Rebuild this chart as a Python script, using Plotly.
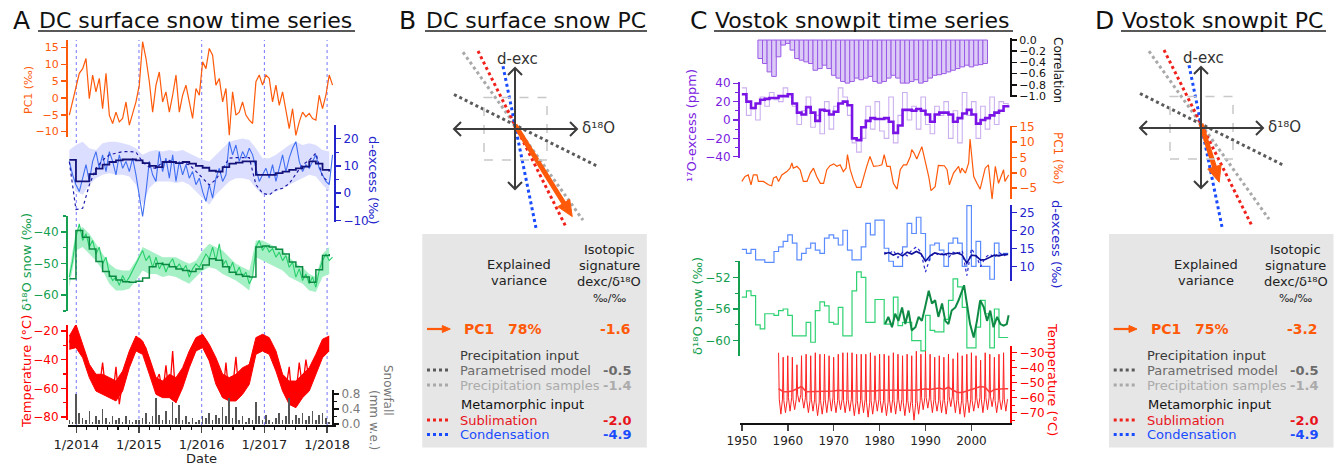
import math
import plotly.graph_objects as go

W, H = 1337, 467
FONT = "DejaVu Sans"

ORANGE = "#ff5a0a"
DEXC_BLUE = "#2424cc"
GREEN_AX = "#14a050"
RED = "#ff0000"
PURPLE = "#7b22e0"

# ---------------- Panel A : DC surface snow time series ----------------
A_T_FINE = [2013.889, 2013.942, 2013.995, 2014.048, 2014.102, 2014.155, 2014.208, 2014.261, 2014.314, 2014.367,
            2014.420, 2014.474, 2014.527, 2014.580, 2014.633, 2014.686, 2014.739, 2014.793, 2014.846, 2014.899,
            2014.952, 2015.005, 2015.058, 2015.112, 2015.165, 2015.218, 2015.271, 2015.324, 2015.377, 2015.430,
            2015.484, 2015.537, 2015.590, 2015.643, 2015.696, 2015.749, 2015.802, 2015.855, 2015.909, 2015.962,
            2016.015, 2016.068, 2016.121, 2016.174, 2016.227, 2016.281, 2016.334, 2016.387, 2016.440, 2016.493,
            2016.546, 2016.599, 2016.652, 2016.705, 2016.759, 2016.812, 2016.865, 2016.918, 2016.971, 2017.024,
            2017.077, 2017.130, 2017.184, 2017.237, 2017.290, 2017.343, 2017.396, 2017.449, 2017.502, 2017.556,
            2017.609, 2017.662, 2017.715, 2017.768, 2017.821, 2017.874, 2017.927, 2017.981, 2018.034, 2018.087]
A_T_COARSE = [2013.889, 2013.995, 2014.102, 2014.208, 2014.314, 2014.420, 2014.527, 2014.633, 2014.739, 2014.846,
              2014.952, 2015.058, 2015.165, 2015.271, 2015.377, 2015.484, 2015.590, 2015.696, 2015.802, 2015.909,
              2016.015, 2016.121, 2016.227, 2016.334, 2016.440, 2016.546, 2016.652, 2016.759, 2016.865, 2016.971,
              2017.077, 2017.184, 2017.290, 2017.396, 2017.502, 2017.609, 2017.715, 2017.821, 2017.927, 2018.034]

A_PC1 = [-5.1, -1.2, 2.8, 7.3, 8.7, 11.7, -0.2, 6.8, 1.8, 5.8,
         -3.2, 7.3, -5.1, -7.6, -4.2, -7.1, -6.1, -1.2, -8.1, -4.2,
         -1.2, 3.8, 16.7, 11.7, 4.8, -4.2, 3.8, 7.7, -1.2, 1.8,
         -4.2, 0.8, 6.8, -4.2, 0.8, 3.8, -1.2, -6.1, 2.8, 0.8,
         10.7, 8.7, 14.7, 12.7, 3.8, 5.8, -1.2, 2.8, -11.1, 1.8,
         -5.1, -4.2, -1.2, -5.1, -6.6, -7.6, 4.8, 6.8, 3.8, 6.8,
         5.8, -1.2, 3.8, -2.2, 1.8, -4.2, -9.1, -3.2, -11.1, -7.1,
         -4.2, -5.6, -4.6, -6.1, -6.6, 0.8, -3.2, 0.8, 6.8, 3.8]
A_DEXC_RAW = [11.6, 6.7, 3.1, 0.6, 5.5, 10.4, 4.3, 11.6, 15.2, 9.1,
              14.0, 7.9, 15.2, 11.6, 6.7, 14.0, 9.1, 11.6, 7.9, 12.8,
              6.7, -0.6, -8.5, 0.6, 11.6, 6.7, 4.3, 15.2, 7.9, 12.8,
              5.5, 14.0, 4.3, 11.6, 6.7, 10.4, 5.5, 7.9, 3.1, 5.5,
              0.6, -3.0, 3.1, -1.8, 5.5, 9.1, 4.3, 6.7, 18.8, 14.0,
              17.6, 11.6, 15.2, 12.8, 16.4, 14.0, 9.1, 4.3, 6.7, 9.1,
              5.5, 10.4, 4.3, 9.1, 14.0, 7.9, 12.8, 16.4, 18.8, 11.6,
              7.9, 10.4, 9.1, 11.6, 14.0, 9.1, 6.7, 4.3, 3.1, 14.0]
A_DEXC_HI = [15.8, 17.6, 18.8, 16.4, 15.8, 18.2, 18.8, 18.8, 18.2, 17.6,
             16.4, 14.0, 15.2, 15.8, 15.2, 15.8, 15.2, 15.8, 14.6, 13.4,
             12.2, 11.6, 14.0, 16.4, 18.8, 19.4, 20.0, 19.4, 16.4, 12.8,
             12.8, 14.0, 15.8, 17.6, 18.8, 17.6, 18.2, 17.6, 15.8, 15.2]
A_DEXC_LO = [9.1, 0.6, -0.6, 3.1, 5.5, 6.7, 7.3, 6.7, 6.7, 6.1,
             3.1, -4.2, 1.8, 4.3, 4.3, 4.3, 3.7, 4.3, 3.1, 0.6,
             -1.8, -4.2, -0.6, 1.8, 4.3, 5.5, 5.5, 4.9, 1.8, -0.6,
             -0.6, 0.6, 1.8, 3.1, 4.3, 5.5, 6.7, 6.1, 3.1, 0.6]
A_DEXC_SMOOTH = [12.2, 4.3, 4.3, 7.0, 9.0, 10.4, 11.4, 12.0, 12.3, 12.3,
                 12.0, 11.0, 10.0, 9.5, 11.4, 11.4, 11.0, 11.4, 10.8, 10.0,
                 9.3, 8.2, 7.9, 9.5, 10.8, 11.2, 11.6, 11.6, 6.7, 6.7,
                 6.7, 7.3, 7.9, 8.5, 9.1, 9.7, 11.6, 10.8, 8.5, 7.9]
A_DEXC_MODEL = [11.5, -6.0, -5.5, 3.0, 9.1, 12.0, 14.0, 14.6, 15.2, 15.2,
                15.0, 11.4, 9.5, 9.1, 11.4, 12.0, 11.0, 11.0, 10.4, 8.0,
                5.5, 3.0, 5.0, 9.1, 12.8, 13.0, 13.0, 13.0, 3.1, 0.0,
                -0.6, 1.2, 1.8, 3.5, 7.0, 10.4, 12.0, 14.6, 6.0, 4.0]
A_D18O_RAW = [-54.3, -49.1, -41.7, -37.5, -42.7, -40.6, -44.8, -42.7, -47.0, -44.8,
              -50.1, -48.0, -53.3, -55.4, -54.3, -56.9, -53.8, -55.9, -54.3, -52.2,
              -50.6, -48.0, -45.9, -49.1, -47.5, -51.2, -48.0, -51.7, -49.6, -52.7,
              -50.1, -48.5, -51.7, -50.1, -52.2, -50.6, -54.3, -51.7, -50.1, -51.2,
              -49.1, -47.0, -48.5, -44.8, -49.1, -43.8, -50.6, -49.1, -52.2, -49.6,
              -53.3, -51.2, -54.3, -52.7, -56.4, -54.3, -44.8, -42.7, -45.9, -44.3,
              -46.4, -45.3, -48.0, -46.4, -49.1, -47.5, -51.2, -49.6, -54.3, -51.7,
              -55.4, -53.3, -56.4, -54.3, -57.5, -52.2, -49.1, -47.0, -49.1, -48.0]
A_D18O_HI = [-52.2, -39.6, -38.5, -40.6, -43.8, -47.0, -50.1, -51.7, -52.2, -52.2,
             -49.1, -44.8, -45.9, -47.0, -48.0, -48.0, -48.0, -49.1, -50.1, -49.1,
             -45.9, -43.8, -44.8, -45.9, -48.0, -50.1, -51.2, -52.2, -42.7, -42.7,
             -43.8, -44.8, -45.9, -48.0, -50.1, -51.2, -53.3, -54.3, -47.0, -44.8]
A_D18O_LO = [-57.5, -45.9, -44.8, -47.0, -49.1, -52.2, -56.4, -58.5, -58.5, -58.0,
             -55.4, -52.2, -53.3, -53.3, -54.3, -53.8, -54.3, -55.4, -56.4, -54.3,
             -52.2, -51.2, -51.7, -53.3, -54.3, -55.4, -56.9, -58.5, -48.0, -49.1,
             -50.1, -51.2, -52.2, -54.3, -55.4, -56.4, -58.5, -59.0, -54.3, -53.3]
A_D18O_SMOOTH = [-54.8, -39.6, -41.7, -45.4, -49.4, -52.5, -54.0, -55.2, -55.8, -55.9,
                 -55.6, -54.6, -51.0, -50.0, -50.3, -51.0, -51.7, -52.2, -52.5, -51.7,
                 -50.5, -48.5, -49.0, -51.0, -52.8, -53.5, -54.0, -54.3, -44.8, -44.5,
                 -44.8, -45.5, -47.0, -49.5, -51.0, -54.3, -55.9, -52.0, -47.5, -47.0]
A_TEMP_HI = [-23.5, -15.4, -29.3, -43.2, -50.2, -50.2, -52.5, -54.9, -47.9, -33.9,
             -23.5, -27.0, -38.6, -52.5, -54.9, -50.2, -52.5, -45.6, -33.9, -24.6,
             -22.3, -29.3, -38.6, -50.2, -52.5, -50.2, -45.6, -43.3, -24.6, -22.3,
             -24.6, -33.9, -50.2, -54.9, -54.9, -50.2, -45.6, -36.3, -25.7, -23.5]
A_TEMP_LO = [-32.8, -31.6, -38.6, -52.5, -61.9, -64.2, -66.5, -68.8, -61.9, -45.6,
             -33.9, -36.3, -50.2, -64.2, -66.5, -66.5, -70.0, -59.6, -45.6, -33.9,
             -31.6, -40.9, -57.2, -66.5, -68.8, -68.8, -64.2, -57.2, -36.3, -33.9,
             -36.3, -47.9, -61.9, -71.2, -73.5, -66.5, -61.9, -50.2, -38.6, -33.9]
A_TEMP_RAW = [-28, -22, -16, -30, -33, -40, -46, -52, -56, -60,
              -42, -64, -58, -66, -45, -71, -55, -50, -42, -36,
              -30, -25, -28, -32, -40, -47, -55, -50, -64, -44,
              -66, -34, -70, -60, -50, -44, -40, -34, -28, -24,
              -26, -31, -37, -44, -50, -60, -66, -42, -68, -60,
              -38, -66, -55, -48, -44, -38, -29, -24, -26, -30,
              -28, -34, -40, -47, -55, -60, -45, -72, -64, -42,
              -60, -40, -55, -44, -40, -33, -30, -26, None, None]
A_SNOW = [0.1, 0.05, 0.8, 0.3, 0.15, 0.1, 0.35, 0.05, 0.2, 0.1,
          0.4, 0.15, 0.05, 0.2, 0.1, 0.15, 0.05, 0.2, 0.1, 0.05,
          0.1, 0.1, 0.15, 0.3, 0.05, 0.2, 0.7, 0.25, 0.1, 0.35,
          0.1, 0.6, 0.15, 0.5, 0.1, 0.2, 0.05, 0.15, 0.05, 0.1,
          0.2, 0.15, 0.3, 0.1, 0.25, 0.15, 0.45, 0.2, 0.7, 0.15,
          0.45, 0.1, 0.2, 0.05, 0.15, 0.1, 0.6, 0.2, 0.1, 0.25,
          0.1, 0.05, 0.15, 0.3, 0.1, 0.2, 0.7, 0.1, 0.25, 0.15,
          0.3, 0.1, 0.2, 0.35, 0.1, 0.25, 0.3, 0.15, 0.05, 0.1]
A_TICK_YEARS = [2014, 2015, 2016, 2017, 2018]
A_TICK_LABELS = ["1/2014", "1/2015", "1/2016", "1/2017", "1/2018"]

# ---------------- Panel C : Vostok snowpit time series ----------------
C_YEARS = [1950, 1951, 1952, 1953, 1954, 1955, 1956, 1957, 1958, 1959,
           1960, 1961, 1962, 1963, 1964, 1965, 1966, 1967, 1968, 1969,
           1970, 1971, 1972, 1973, 1974, 1975, 1976, 1977, 1978, 1979,
           1980, 1981, 1982, 1983, 1984, 1985, 1986, 1987, 1988, 1989,
           1990, 1991, 1992, 1993, 1994, 1995, 1996, 1997, 1998, 1999,
           2000, 2001, 2002, 2003, 2004, 2005, 2006, 2007, 2008]
C_O17_RAW = [35, 5, 12, 0, 25, 15, 30, 22, 20, 35,
             25, 15, -5, 10, 25, -8, 5, -15, 20, -10,
             15, 35, 25, 5, -25, -35, -20, 15, -10, 20,
             -12, -20, 25, -25, 5, 30, 0, 15, -10, 25,
             -5, -15, 15, 5, 20, -20, 10, -25, 30, 5,
             20, -20, 15, -10, 25, -5, 20, 18, 15]
C_O17_SMOOTH = [28, 20, 13, 18, 22, 23, 24, 24, 26, 26,
                28, 18, 8, 6, 14, 8, -1, 11, 10, 6,
                9, 18, 20, 16, -20, -22, -8, -1, 2, 1,
                1, 2, -2, -14, -6, 11, 11, 10, 12, 10,
                6, -2, 6, 8, 8, 6, -2, 2, 7, 11,
                6, -4, 0, 2, 5, 8, 10, 15, 16]
C_DEXC_RAW = [14.8, 13.7, 14.8, 11.9, 11.9, 11.2, 11.2, 14.2, 15.5, 17.0,
              18.8, 16.5, 11.9, 13.7, 15.1, 16.5, 14.6, 13.7, 17.9, 18.8,
              17.9, 16.0, 20.1, 14.6, 11.9, 11.9, 15.5, 22.0, 18.8, 22.9,
              22.9, 15.1, 11.5, 10.1, 10.1, 15.5, 22.0, 19.2, 23.7, 19.2,
              11.9, 16.0, 16.5, 14.6, 10.1, 16.5, 17.9, 16.5, 10.1, 26.9,
              10.1, 17.0, 10.1, 10.1, 6.5, 16.5, 13.2, 13.7, 13.7]
C_D18O_RAW = [-54.5, -53.7, -54.3, -58.0, -58.5, -56.6, -56.6, -56.8, -56.2, -56.0,
              -56.8, -59.4, -59.4, -59.4, -57.7, -60.2, -56.2, -55.1, -55.6, -57.7,
              -57.9, -55.8, -59.4, -59.4, -53.7, -51.3, -52.0, -57.7, -57.7, -54.8,
              -54.8, -57.9, -57.9, -54.5, -58.1, -57.7, -57.7, -60.0, -60.0, -61.3,
              -56.8, -58.7, -58.9, -58.9, -57.3, -54.9, -52.2, -53.2, -55.8, -60.9,
              -60.9, -58.3, -54.9, -56.6, -60.9, -56.0, -59.6, -59.6, -59.6]

C_CORR_YEARS = [1954, 1955, 1956, 1957, 1958, 1959, 1960, 1961, 1962, 1963,
                1964, 1965, 1966, 1967, 1968, 1969, 1970, 1971, 1972, 1973,
                1974, 1975, 1976, 1977, 1978, 1979, 1980, 1981, 1982, 1983,
                1984, 1985, 1986, 1987, 1988, 1989, 1990, 1991, 1992, 1993,
                1994, 1995, 1996, 1997, 1998, 1999, 2000, 2001, 2002, 2003]
C_CORR = [-0.33, -0.42, -0.57, -0.65, -0.30, -0.09, -0.06, -0.18, -0.33, -0.36,
          -0.39, -0.42, -0.54, -0.51, -0.45, -0.51, -0.63, -0.68, -0.74, -0.77,
          -0.74, -0.68, -0.71, -0.68, -0.65, -0.74, -0.77, -0.74, -0.68, -0.63,
          -0.68, -0.77, -0.77, -0.74, -0.71, -0.77, -0.74, -0.68, -0.63, -0.62,
          -0.60, -0.57, -0.54, -0.51, -0.48, -0.45, -0.48, -0.45, -0.44, -0.42]

C_PC1_YEARS = [1950.0, 1950.7, 1951.4, 1952.0, 1952.5, 1953.3, 1953.6, 1954.7, 1955.8, 1956.5,
               1956.9, 1957.5, 1958.0, 1958.7, 1959.8, 1960.5, 1960.9, 1961.2, 1962.0, 1962.7,
               1963.4, 1964.2, 1964.9, 1965.6, 1966.3, 1967.1, 1967.8, 1968.5, 1969.2, 1970.0,
               1970.7, 1971.4, 1972.1, 1972.7, 1973.0, 1973.6, 1974.3, 1975.0, 1975.9, 1976.5,
               1977.2, 1977.9, 1978.7, 1979.8, 1980.5, 1981.0, 1981.6, 1982.3, 1983.0, 1983.8,
               1984.5, 1985.2, 1985.9, 1986.7, 1987.0, 1987.5, 1988.1, 1989.2, 1989.9, 1990.7,
               1991.2, 1992.1, 1992.8, 1993.6, 1994.1, 1994.7, 1995.2, 1996.1, 1997.2, 1997.6,
               1997.9, 1998.7, 1999.4, 1999.7, 2000.5, 2001.2, 2001.9, 2003.0, 2003.7, 2004.5,
               2005.2, 2005.9, 2006.6, 2007.0, 2007.3, 2008.1]
C_PC1 = [-2.8, -1.2, -0.7, -3.9, -0.7, -0.7, -2.8, -2.8, -3.9, -4.2,
         -1.7, -1.2, -2.8, -0.7, 0.4, 1.5, 3.2, 1.5, 2.1, 1.0,
         -2.8, -2.8, -0.1, 1.5, -1.2, -3.4, -3.4, 1.0, 2.3, 2.9,
         2.1, 2.6, 0.4, 1.5, 5.9, 1.0, -2.3, -4.7, -4.7, -1.2,
         2.1, 5.3, 2.1, 2.3, 2.6, 5.9, 2.1, 2.1, -3.4, -5.3,
         1.0, 2.6, 2.6, 5.3, 7.5, 6.4, 4.5, 8.5, 4.2, -1.2,
         -5.8, -4.5, 2.4, 2.4, 2.3, 1.0, -3.9, -0.1, 2.1, -0.1,
         1.5, -0.1, 3.2, 11.0, -1.2, -3.4, -5.3, 1.5, 2.6, -8.6,
         2.1, -3.4, -0.1, 1.0, -2.8, -0.7]

C_RECENT_YEARS = [1981, 1982, 1983, 1984, 1985, 1986, 1987, 1988, 1989, 1990,
                  1991, 1992, 1993, 1994, 1995, 1996, 1997, 1998, 1999, 2000,
                  2001, 2002, 2003, 2004, 2005, 2006, 2007, 2008]
C_DEXC_SMOOTH = [13.5, 13.9, 13.2, 13.7, 13.0, 14.0, 13.5, 14.2, 13.6, 11.5,
                 13.0, 13.8, 13.5, 13.3, 13.7, 13.5, 13.8, 13.2, 11.0, 13.2,
                 13.0, 11.8, 12.0, 12.5, 13.2, 13.0, 13.4, 13.4]
C_DEXC_MODEL = [14.0, 13.5, 14.5, 12.5, 14.0, 13.0, 14.5, 15.5, 14.0, 8.5,
                12.5, 14.0, 13.0, 14.0, 12.5, 14.0, 13.5, 14.5, 7.5, 15.0,
                13.0, 10.0, 12.5, 13.5, 12.5, 14.0, 13.0, 13.5]

C_D18O_PIT_YEARS = [1981.2, 1981.9, 1982.7, 1983.4, 1984.1, 1984.9, 1985.6, 1986.3, 1987.0, 1987.8,
                    1988.5, 1989.2, 1989.9, 1990.7, 1991.4, 1992.1, 1992.8, 1993.6, 1994.3, 1995.0,
                    1995.7, 1996.5, 1997.2, 1997.9, 1998.4, 1999.0, 1999.7, 2000.5, 2001.2, 2001.9,
                    2002.7, 2003.4, 2004.1, 2004.8, 2005.6, 2006.3, 2007.0, 2007.7, 2008.1]
C_D18O_PIT = [-57.9, -57.0, -58.3, -56.6, -57.5, -55.8, -57.9, -56.2, -58.7, -58.3,
              -57.0, -57.5, -55.8, -53.7, -55.3, -54.9, -57.0, -55.3, -57.5, -57.9,
              -56.2, -55.8, -54.9, -53.7, -53.0, -55.3, -57.9, -59.6, -57.5, -54.9,
              -55.8, -57.5, -56.2, -58.3, -57.0, -57.9, -58.1, -57.9, -56.8]

C_TEMP_YEARS = [1958, 1959, 1960, 1961, 1962, 1963, 1964, 1965, 1966, 1967,
                1968, 1969, 1970, 1971, 1972, 1973, 1974, 1975, 1976, 1977,
                1978, 1979, 1980, 1981, 1982, 1983, 1984, 1985, 1986, 1987,
                1988, 1989, 1990, 1991, 1992, 1993, 1994, 1995, 1996, 1997,
                1998, 1999, 2000, 2001, 2002, 2003, 2004, 2005, 2006, 2007]
C_TEMP_SUMMER = [-30, -33, -32, -33, -38, -32, -31, -32, -30, -31,
                 -31, -32, -33, -31, -30, -30, -30, -31, -31, -31,
                 -30, -32, -31, -31, -32, -30, -31, -32, -31, -32,
                 -29, -31, -29, -31, -33, -32, -33, -31, -34, -30,
                 -32, -31, -30, -32, -35, -30, -31, -33, -31, -30]
C_TEMP_WINTER = [-61, -62, -60, -61, -58, -60, -62, -61, -63, -62,
                 -61, -60, -62, -61, -62, -61, -63, -62, -61, -63,
                 -62, -61, -62, -63, -61, -62, -61, -63, -62, -64,
                 -62, -60, -60, -61, -62, -61, -62, -59, -61, -62,
                 -63, -61, -62, -60, -61, -60, -59, -62, -61, -61]
C_TEMP_MIN = [-71, -70, -69, -68, -63, -67, -70, -69, -72, -71,
              -70, -69, -70, -68, -70, -69, -72, -71, -70, -73,
              -71, -69, -70, -72, -70, -71, -69, -72, -70, -75,
              -71, -68, -67, -70, -69, -70, -71, -66, -70, -71,
              -73, -70, -69, -67, -70, -68, -66, -70, -68, -69]
C_TEMP_SMOOTH_YEARS = C_TEMP_YEARS + [2008]
C_TEMP_SMOOTH = [-54, -56, -56, -55.5, -54, -52.5, -56, -56, -56, -56,
                 -55.5, -55.5, -55.5, -55, -55.5, -55.5, -55.5, -55.5, -56, -56,
                 -55.5, -55.5, -55, -55, -55, -55, -55.5, -55.5, -55, -55.5,
                 -55, -54.5, -54, -54.5, -54, -53.5, -54.5, -53, -55, -56.5,
                 -56.5, -55.5, -55, -54, -52.5, -53, -56.5, -54.5, -54, -54, -54]
C_TICK_YEARS = [1950, 1960, 1970, 1980, 1990, 2000]

# ---------------- Panels B & D : isotopic signatures ----------------
SIG_NAMES = ["Parametrised model", "Precipitation samples", "Sublimation", "Condensation"]
SIG_VALUES = [-0.5, -1.4, -2.0, -4.9]
PC_VAR = {"B": "78%", "D": "75%"}
PC_SIG = {"B": -1.6, "D": -3.2}

for name, xs, ys in [("pc1", A_T_FINE, A_PC1), ("dexc", A_T_FINE, A_DEXC_RAW), ("d18o", A_T_FINE, A_D18O_RAW),
                     ("snow", A_T_FINE, A_SNOW), ("traw", A_T_FINE, A_TEMP_RAW), ("dhi", A_T_COARSE, A_DEXC_HI),
                     ("dlo", A_T_COARSE, A_DEXC_LO), ("dsm", A_T_COARSE, A_DEXC_SMOOTH), ("dmo", A_T_COARSE, A_DEXC_MODEL),
                     ("ohi", A_T_COARSE, A_D18O_HI), ("olo", A_T_COARSE, A_D18O_LO), ("osm", A_T_COARSE, A_D18O_SMOOTH),
                     ("thi", A_T_COARSE, A_TEMP_HI), ("tlo", A_T_COARSE, A_TEMP_LO), ("o17", C_YEARS, C_O17_RAW),
                     ("o17s", C_YEARS, C_O17_SMOOTH), ("cdx", C_YEARS, C_DEXC_RAW), ("cd18", C_YEARS, C_D18O_RAW),
                     ("corr", C_CORR_YEARS, C_CORR), ("cpc", C_PC1_YEARS, C_PC1), ("cds", C_RECENT_YEARS, C_DEXC_SMOOTH),
                     ("cdm", C_RECENT_YEARS, C_DEXC_MODEL), ("cpit", C_D18O_PIT_YEARS, C_D18O_PIT),
                     ("ts", C_TEMP_YEARS, C_TEMP_SUMMER), ("tw", C_TEMP_YEARS, C_TEMP_WINTER),
                     ("tm", C_TEMP_YEARS, C_TEMP_MIN), ("tsm", C_TEMP_SMOOTH_YEARS, C_TEMP_SMOOTH)]:
    assert len(xs) == len(ys), (name, len(xs), len(ys))


def px(x):
    return x / W


def py(y):
    return 1 - y / H


fig = go.Figure()
ann = []
shapes = []


def text(x, y, s, size=13, color="#222222", xanchor="center", yanchor="middle", angle=0, bold=False,
         xref="paper", yref="paper"):
    if bold:
        s = "<b>" + s + "</b>"
    ann.append(dict(x=px(x) if xref == "paper" else x, y=py(y) if yref == "paper" else y,
                    xref=xref, yref=yref, text=s, showarrow=False, xanchor=xanchor, yanchor=yanchor,
                    textangle=angle, font=dict(family=FONT, size=size, color=color)))


def line(x, y, xa, ya, color, width=1.2, dash="solid", shape="linear", fill=None, fillcolor=None):
    fig.add_trace(go.Scatter(x=x, y=y, xaxis=xa, yaxis=ya, mode="lines",
                             line=dict(color=color, width=width, dash=dash, shape=shape),
                             fill=fill, fillcolor=fillcolor, hoverinfo="skip"))


# ---------- Panel A traces ----------
line(A_T_COARSE, A_DEXC_HI, "x", "y2", "rgba(0,0,0,0)", width=0)
line(A_T_COARSE, A_DEXC_LO, "x", "y2", "rgba(0,0,0,0)", width=0, fill="tonexty", fillcolor="#dcdeff")
line(A_T_FINE, A_DEXC_RAW, "x", "y2", "#3f6ff2", width=1.1)
line(A_T_COARSE, A_DEXC_MODEL, "x", "y2", "#1c1ca8", width=1.2, dash="dot")
line(A_T_COARSE, A_DEXC_SMOOTH, "x", "y2", "#12127a", width=1.8, shape="hv")
line(A_T_FINE, A_PC1, "x", "y", ORANGE, width=1.2)
line(A_T_COARSE, A_D18O_HI, "x", "y3", "rgba(0,0,0,0)", width=0)
line(A_T_COARSE, A_D18O_LO, "x", "y3", "rgba(0,0,0,0)", width=0, fill="tonexty", fillcolor="#a6f0c6")
line(A_T_FINE, A_D18O_RAW, "x", "y3", "#27cf6a", width=1.1)
line(A_T_COARSE, A_D18O_SMOOTH, "x", "y3", "#0b8a42", width=1.5, shape="hv")
line(A_T_COARSE, A_TEMP_HI, "x", "y4", RED, width=1)
line(A_T_COARSE, A_TEMP_LO, "x", "y4", RED, width=1, fill="tonexty", fillcolor=RED)
line(A_T_FINE, A_TEMP_RAW, "x", "y4", RED, width=1.3)
fig.add_trace(go.Bar(x=A_T_FINE, y=A_SNOW, xaxis="x", yaxis="y5", width=0.026,
                     marker=dict(color="#555555", line=dict(width=0)), hoverinfo="skip"))

# ---------- Panel C traces ----------
fig.add_trace(go.Bar(x=C_CORR_YEARS, y=C_CORR, xaxis="x2", yaxis="y6", width=1.0,
                     marker=dict(color="#dccbf6", line=dict(color="#9a5ae6", width=1)), hoverinfo="skip"))
line(C_YEARS, C_O17_RAW, "x2", "y7", "#cbb0f0", width=1.1, shape="hv")
line(C_YEARS, C_O17_SMOOTH, "x2", "y7", "#7a14e6", width=2.6, shape="hv")
line(C_PC1_YEARS, C_PC1, "x2", "y8", ORANGE, width=1.2)
line(C_YEARS, C_DEXC_RAW, "x2", "y9", "#5b8cff", width=1.2, shape="hv")
line(C_RECENT_YEARS, C_DEXC_MODEL, "x2", "y9", "#2a2ad0", width=1.2, dash="dot")
line(C_RECENT_YEARS, C_DEXC_SMOOTH, "x2", "y9", "#10109a", width=1.6)
line(C_YEARS, C_D18O_RAW, "x2", "y10", "#2fd273", width=1.2, shape="hv")
line(C_D18O_PIT_YEARS, C_D18O_PIT, "x2", "y10", "#0f8a45", width=2)
tx, ty = [], []
for yr, s, w, m in zip(C_TEMP_YEARS, C_TEMP_SUMMER, C_TEMP_WINTER, C_TEMP_MIN):
    tx += [yr, yr + 0.15, yr + 0.5, yr + 0.85]
    ty += [s, w, m, w]
line(tx, ty, "x2", "y11", "#ff2020", width=1)
line(C_TEMP_SMOOTH_YEARS, C_TEMP_SMOOTH, "x2", "y11", "#ff3b3b", width=1.6)

# ---------- Panels B & D diagrams ----------
LINE_COLORS = ["#5a5a5a", "#a9a9a9", "#f0201a", "#1a4cff"]
LINE_XSPAN = [(-61, 82), (-52, 68), (-37, 51), (-12, 21)]
ARROW_LEN = {"B": 108, "D": 61}
for key, xa, ya in [("B", "x3", "y12"), ("D", "x4", "y13")]:
    shapes.append(dict(type="rect", xref=xa, yref=ya, x0=-31, x1=32, y0=-35, y1=27.5,
                       line=dict(color="#c8c8c8", width=1.5, dash="dash")))
    for path in ["M -61,-4 L 62,-4", "M 0,57 L 0,-64", "M -54,3 L -61,-4 L -54,-11", "M 55,3 L 62,-4 L 55,-11",
                 "M -7,50 L 0,57 L 7,50", "M -7,-57 L 0,-64 L 7,-57"]:
        shapes.append(dict(type="path", xref=xa, yref=ya, path=path, line=dict(color="#3c3c3c", width=2)))
    for s, c, (x0, x1) in zip(SIG_VALUES, LINE_COLORS, LINE_XSPAN):
        line([x0, x1], [s * x0, s * x1], xa, ya, c, width=3, dash="dot")
    slope = PC_SIG[key]
    ux, uy = 1 / math.sqrt(1 + slope ** 2), slope / math.sqrt(1 + slope ** 2)
    L = ARROW_LEN[key]
    tipx, tipy = L * ux, L * uy
    bx, by = (L - 16) * ux, (L - 16) * uy
    nx, ny = -uy, ux
    line([0, bx + 2 * ux], [0, by + 2 * uy], xa, ya, ORANGE, width=5)
    shapes.append(dict(type="path", xref=xa, yref=ya, fillcolor=ORANGE, line=dict(color=ORANGE, width=1),
                       path="M %.2f,%.2f L %.2f,%.2f L %.2f,%.2f Z" % (tipx, tipy, bx + 7 * nx, by + 7 * ny,
                                                                      bx - 7 * nx, by - 7 * ny)))
    text(2, 65.5, "d-exc", size=15, color="#333333", xref=xa, yref=ya)
    text(65, -3, "δ¹⁸O", size=15, color="#333333", xanchor="left", xref=xa, yref=ya)


def add_box(key, x0):
    shapes.append(dict(type="rect", xref="paper", yref="paper", x0=px(x0), x1=px(x0 + 224.5), y0=py(447.5),
                       y1=py(234), fillcolor="#e6e6e6", line=dict(width=0), layer="below"))
    text(x0 + 96.7, 264, "Explained")
    text(x0 + 96.7, 280, "variance")
    text(x0 + 186.7, 249, "Isotopic")
    text(x0 + 186.7, 265, "signature")
    text(x0 + 186.7, 281, "dexc/δ¹⁸O")
    text(x0 + 186.7, 298, "‰/‰", size=11)
    shapes.append(dict(type="line", xref="paper", yref="paper", x0=px(x0 + 4.7), x1=px(x0 + 21), y0=py(329),
                       y1=py(329), line=dict(color=ORANGE, width=2.2)))
    shapes.append(dict(type="path", xref="paper", yref="paper", fillcolor=ORANGE, line=dict(color=ORANGE, width=1),
                       path="M %.5f,%.5f L %.5f,%.5f L %.5f,%.5f Z" % (px(x0 + 28), py(329), px(x0 + 20), py(325.5),
                                                                      px(x0 + 20), py(332.5))))
    text(x0 + 40, 329, "PC1", size=14, color=ORANGE, xanchor="left", bold=True)
    text(x0 + 84, 329, PC_VAR[key], size=14, color=ORANGE, xanchor="left", bold=True)
    text(x0 + 211, 329, "%.1f" % PC_SIG[key], size=14, color=ORANGE, xanchor="right", bold=True)
    text(x0 + 36, 355, "Precipitation input", color="#3a3a3a", xanchor="left")
    text(x0 + 37, 404.5, "Metamorphic input", color="#111111", xanchor="left")
    rows_y = [370, 385, 420, 434.5]
    txt_cols = ["#6b6b6b", "#ababab", "#e8141c", "#1a4cff"]
    for name, val, lc, tc, yy in zip(SIG_NAMES, SIG_VALUES, LINE_COLORS, txt_cols, rows_y):
        shapes.append(dict(type="line", xref="paper", yref="paper", x0=px(x0 + 4.7), x1=px(x0 + 27.7),
                           y0=py(yy), y1=py(yy), line=dict(color=lc, width=3, dash="dot")))
        text(x0 + 36, yy, name, color=tc, xanchor="left")
        text(x0 + 211, yy, "%.1f" % val, color=tc, xanchor="right", bold=True)


add_box("B", 422.3)
add_box("D", 1109)

# ---------- panel titles ----------
for letter, lx, title, tx0, tx1 in [("A", 21.5, "DC surface snow time series", 38, 355),
                                    ("B", 407, "DC surface snow PC", 425, 647),
                                    ("C", 698, "Vostok snowpit time series", 714, 1013),
                                    ("D", 1104, "Vostok snowpit PC", 1121, 1326)]:
    text(lx, 20.5, letter, size=25, color="#111111")
    text(tx0 - 1, 20.5, title, size=22, color="#111111", xanchor="left")
    shapes.append(dict(type="line", xref="paper", yref="paper", x0=px(tx0), x1=px(tx1), y0=py(31), y1=py(31),
                       line=dict(color="#222222", width=1.5)))

# ---------- axis titles ----------
text(28, 90, "PC1 (‰)", size=11, color=ORANGE, angle=-90)
text(374, 180, "d-excess (‰)", size=13, color=DEXC_BLUE, angle=90)
text(26, 262, "δ¹⁸O snow (‰)", size=13, color=GREEN_AX, angle=-90)
text(26, 372, "Temperature (°C)", size=13, color=RED, angle=-90)
text(388, 390, "Snowfall", size=12, color="#777777", angle=90)
text(374, 420, "(mm w.e.)", size=12, color="#777777", angle=90)
text(202, 458, "Date", size=13, color="#222222")
text(1058, 70, "Correlation", size=12, color="#111111", angle=90)
text(691, 126, "¹⁷O-excess (ppm)", size=13, color=PURPLE, angle=-90)
text(1058, 158, "PC1 (‰)", size=12, color=ORANGE, angle=90)
text(1056, 244, "d-excess (‰)", size=13, color=DEXC_BLUE, angle=90)
text(697, 306, "δ¹⁸O snow (‰)", size=13, color=GREEN_AX, angle=-90)
text(1053, 379, "Temperature (°C)", size=13, color=RED, angle=90)

# ---------- vertical year markers in A ----------
for yr in A_TICK_YEARS:
    shapes.append(dict(type="line", xref="x", yref="paper", x0=yr, x1=yr, y0=py(425), y1=py(40),
                       line=dict(color="#7676ff", width=1, dash="dot"), layer="below"))


def yax(top, bottom, rng, color, tickvals, side="left", anchor="x", position=None, minor=None,
        fontcolor=None, size=12, tickformat=None):
    d = dict(domain=[py(bottom), py(top)], range=rng, showline=True, linecolor=color, linewidth=2,
             ticks="outside", ticklen=5, tickwidth=1.5, tickcolor=color, tickmode="array", tickvals=tickvals,
             tickfont=dict(family=FONT, size=size, color=fontcolor or color), showgrid=False, zeroline=False,
             side=side, fixedrange=True, automargin=False)
    if tickformat:
        d["tickformat"] = tickformat
    if anchor == "free":
        d.update(anchor="free", position=position)
    else:
        d["anchor"] = anchor
    if minor is not None:
        d["minor"] = dict(tickmode="linear", tick0=0, dtick=minor, ticks="outside", ticklen=3, tickwidth=1.2,
                          tickcolor=color, showgrid=False)
    return d


hidden = dict(visible=False, showgrid=False, zeroline=False, fixedrange=True, automargin=False)

fig.update_layout(
    width=W, height=H, margin=dict(l=0, r=0, t=0, b=0, autoexpand=False), paper_bgcolor="white",
    plot_bgcolor="rgba(0,0,0,0)", showlegend=False, bargap=0, font=dict(family=FONT),
    xaxis=dict(domain=[px(68), px(336)], range=[2013.868, 2018.142], anchor="y5", showline=True,
               linecolor="#111111", linewidth=2, ticks="outside", ticklen=6, tickwidth=1.5, tickmode="array",
               tickvals=A_TICK_YEARS, ticktext=A_TICK_LABELS, tickfont=dict(family=FONT, size=13, color="#222222"),
               minor=dict(tickmode="linear", tick0=2014, dtick=1 / 6, ticks="outside", ticklen=3, tickwidth=1.2,
                          tickcolor="#111111", showgrid=False),
               showgrid=False, zeroline=False, fixedrange=True, automargin=False),
    yaxis=yax(40, 137, [-11.6, 17.2], ORANGE, [-10, -5, 0, 5, 10, 15], size=11),
    yaxis2=yax(125, 221.7, [-10.4, 24.9], DEXC_BLUE, [-10, 0, 10, 20], side="right", anchor="free",
               position=px(335), minor=5),
    yaxis3=yax(216, 311, [-65, -35], GREEN_AX, [-60, -50, -40], minor=5),
    yaxis4=yax(325, 420, [-82.1, -15.8], RED, [-80, -60, -40, -20], minor=10),
    yaxis5=yax(390, 425, [-0.027, 0.907], "#111111", [0, 0.4, 0.8], side="right", anchor="free",
               position=px(333), minor=0.2, fontcolor="#7a7a7a", tickformat=".1f"),
    xaxis2=dict(domain=[px(740), px(1010)], range=[1949.6, 2008.4], anchor="y11", showline=True,
                linecolor="#111111", linewidth=2, ticks="outside", ticklen=6, tickwidth=1.5, tickmode="array",
                tickvals=C_TICK_YEARS, tickfont=dict(family=FONT, size=12, color="#222222"),
                showgrid=False, zeroline=False, fixedrange=True, automargin=False),
    yaxis6=yax(38, 97, [-1.018, 0.036], "#111111", [-1.0, -0.8, -0.6, -0.4, -0.2, 0.0], side="right",
               anchor="free", position=px(1011), tickformat=".1f", size=11),
    yaxis7=yax(81.7, 157.7, [-41.1, 41.7], PURPLE, [-40, -20, 0, 20, 40], anchor="x2", minor=10),
    yaxis8=yax(126, 199.3, [-8.6, 15.2], ORANGE, [-5, 0, 5, 10, 15], side="right", anchor="x2"),
    yaxis9=yax(205, 280.7, [6.1, 27.1], DEXC_BLUE, [10, 15, 20, 25], side="right", anchor="x2"),
    yaxis10=yax(260.7, 355.7, [-61.9, -49.9], GREEN_AX, [-60, -56, -52], anchor="x2", minor=2),
    yaxis11=yax(346, 423, [-76.9, -25.5], RED, [-70, -60, -50, -40, -30], side="right", anchor="x2", minor=5),
    xaxis3=dict(domain=[px(430), px(620)], range=[-85, 105], anchor="y12", **hidden),
    yaxis12=dict(domain=[py(235), py(40)], range=[-110, 85], anchor="x3", **hidden),
    xaxis4=dict(domain=[px(1116), px(1306)], range=[-85, 105], anchor="y13", **hidden),
    yaxis13=dict(domain=[py(235), py(40)], range=[-111, 84], anchor="x4", **hidden),
    annotations=ann, shapes=shapes,
)

fig.write_html("out.html", config={"displayModeBar": False, "staticPlot": True},
               post_script="document.body.style.margin='0';document.body.style.overflow='hidden';")
